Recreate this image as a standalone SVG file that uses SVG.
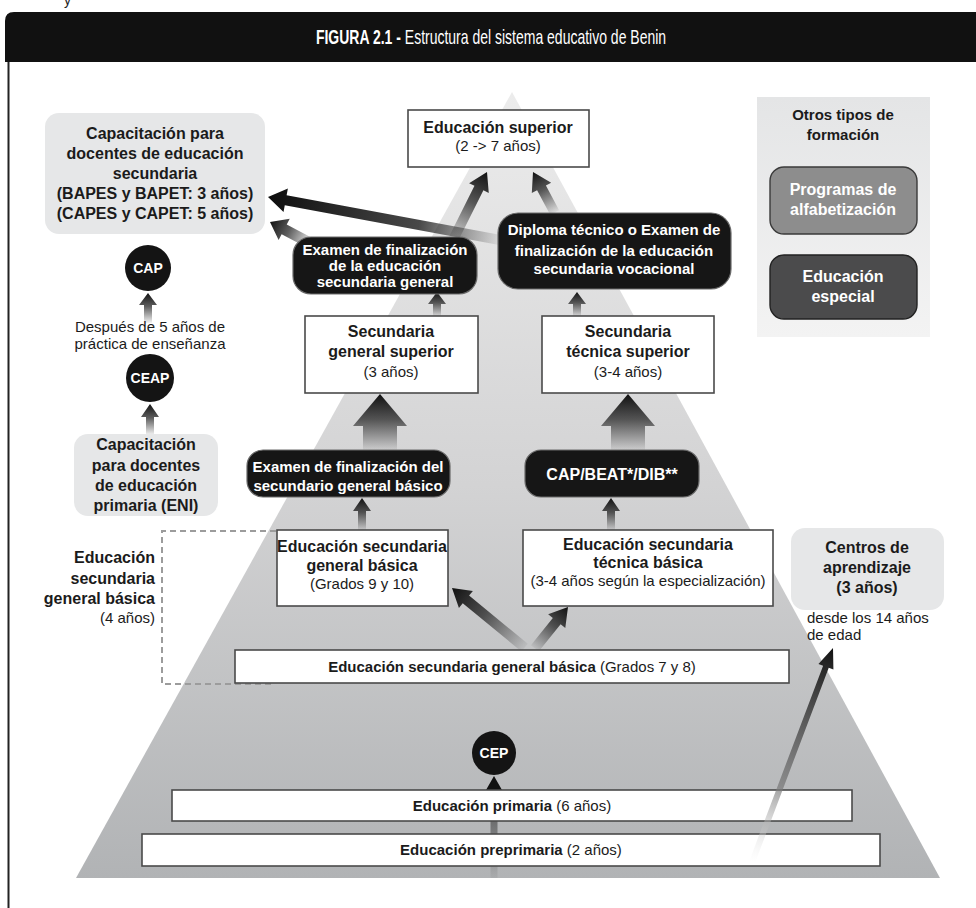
<svg xmlns="http://www.w3.org/2000/svg" width="976" height="908" viewBox="0 0 976 908">
  <style>
    text { font-family: "Liberation Sans Narrow", "Liberation Sans", Arial, sans-serif; }
    .b { font-weight: bold; }
    .c { text-anchor: middle; }
    .e { text-anchor: end; }
    .f16 { font-size: 16px; }
    .f15 { font-size: 15px; }
    .f14 { font-size: 14px; }
    .dk { fill: #1b1b1b; }
    .wt { fill: #ffffff; }
    .box { fill: #ffffff; stroke: #4a4a4a; stroke-width: 1.6; }
    .blk { fill: #161616; stroke: #6a6a6a; stroke-width: 1.2; }
    .soft { fill: #e6e7e8; }
    .dot { fill: #141414; }
  </style>
  <defs>
    <linearGradient id="pyr" x1="0" y1="92" x2="0" y2="878" gradientUnits="userSpaceOnUse">
      <stop offset="0" stop-color="#ececec"/>
      <stop offset="0.5" stop-color="#d3d3d4"/>
      <stop offset="1" stop-color="#b1b3b5"/>
    </linearGradient>
    <linearGradient id="panel" x1="0" y1="0" x2="0" y2="1">
      <stop offset="0" stop-color="#e4e5e6"/>
      <stop offset="1" stop-color="#f3f3f3"/>
    </linearGradient>
    <!-- arrow fills: tail at the bottom of the local box, tip at the top -->
    <linearGradient id="fade" x1="0" y1="1" x2="0" y2="0">
      <stop offset="0" stop-color="#1a1a1a" stop-opacity="0.05"/>
      <stop offset="0.55" stop-color="#1a1a1a" stop-opacity="0.7"/>
      <stop offset="1" stop-color="#111111" stop-opacity="1"/>
    </linearGradient>
    <linearGradient id="fadeLong" x1="0" y1="1" x2="0" y2="0">
      <stop offset="0" stop-color="#1a1a1a" stop-opacity="0.05"/>
      <stop offset="0.35" stop-color="#1a1a1a" stop-opacity="0.8"/>
      <stop offset="1" stop-color="#0d0d0d" stop-opacity="1"/>
    </linearGradient>
    <linearGradient id="fadeCep" x1="0" y1="1" x2="0" y2="0">
      <stop offset="0" stop-color="#1a1a1a" stop-opacity="0.05"/>
      <stop offset="0.6" stop-color="#1a1a1a" stop-opacity="0.5"/>
      <stop offset="0.78" stop-color="#111111" stop-opacity="1"/>
      <stop offset="1" stop-color="#111111" stop-opacity="1"/>
    </linearGradient>
    <linearGradient id="fadeThin" x1="0" y1="1" x2="0" y2="0">
      <stop offset="0" stop-color="#ffffff" stop-opacity="0.2"/>
      <stop offset="0.35" stop-color="#777777" stop-opacity="0.7"/>
      <stop offset="1" stop-color="#111111" stop-opacity="1"/>
    </linearGradient>
  </defs>

  <!-- page background -->
  <rect x="0" y="0" width="976" height="908" fill="#ffffff"/>
  <text x="64" y="5" class="f14" fill="#222">y</text>

  <!-- title bar and frame -->
  <g id="header">
    <path d="M5,62 V21 Q5,12 14,12 H976 V62 Z" fill="#111111"/>
    <line x1="8.5" y1="62" x2="8.5" y2="908" stroke="#222" stroke-width="2"/>
    <text transform="translate(491,44) scale(0.7,1)" x="0" y="0" class="c wt" font-size="20"><tspan class="b">FIGURA 2.1 -</tspan> Estructura del sistema educativo de Benin</text>
  </g>

  <!-- pyramid backdrop -->
  <polygon id="pyramid" points="512,92 940,878 76,878" fill="url(#pyr)"/>

  <!-- connectors -->
  <g id="connectors">
    <!-- CAP -->
    <path transform="translate(148,293)" d="M0,0 L9,12 L4,12 L4,30 L-4,30 L-4,12 L-9,12 Z" fill="url(#fade)"/>
    <!-- CEAP -->
    <path transform="translate(150,404)" d="M0,0 L9,13 L4,13 L4,31 L-4,31 L-4,13 L-9,13 Z" fill="url(#fade)"/>
    <!-- basic general -> exam -->
    <path transform="translate(362,498)" d="M0,0 L9,13 L4,13 L4,32 L-4,32 L-4,13 L-9,13 Z" fill="url(#fade)"/>
    <!-- basic technical -> CAP/BEAT/DIB -->
    <path transform="translate(611,498)" d="M0,0 L9,13 L4,13 L4,32 L-4,32 L-4,13 L-9,13 Z" fill="url(#fade)"/>
    <!-- big arrows into upper secondary -->
    <path transform="translate(380,394)" d="M0,0 L27,32 L17,32 L17,56 L-17,56 L-17,32 L-27,32 Z" fill="url(#fade)"/>
    <path transform="translate(628,394)" d="M0,0 L27,32 L17,32 L17,56 L-17,56 L-17,32 L-27,32 Z" fill="url(#fade)"/>
    <!-- upper secondary -> exams -->
    <path transform="translate(437,292)" d="M0,0 L9,12 L4,12 L4,24 L-4,24 L-4,12 L-9,12 Z" fill="url(#fade)"/>
    <path transform="translate(577,292)" d="M0,0 L9,12 L4,12 L4,24 L-4,24 L-4,12 L-9,12 Z" fill="url(#fade)"/>
    <!-- exams -> higher education -->
    <path transform="translate(487,172) rotate(26.6)" d="M0,0 L11,18 L5,18 L5,76 L-5,76 L-5,18 L-11,18 Z" fill="url(#fade)"/>
    <path transform="translate(533,172) rotate(-28.2)" d="M0,0 L11,18 L5,18 L5,46 L-5,46 L-5,18 L-11,18 Z" fill="url(#fade)"/>
    <!-- exams -> secondary teacher training -->
    <path transform="translate(268,197) rotate(-79.5)" d="M0,0 L12,18 L5,18 L5,236 L-5,236 L-5,18 L-12,18 Z" fill="url(#fadeLong)"/>
    <path transform="translate(270,222) rotate(-62.4)" d="M0,0 L12,16 L5.5,16 L5.5,47 L-5.5,47 L-5.5,16 L-12,16 Z" fill="url(#fade)"/>
    <!-- grades 7-8 -> grades 9-10 branches -->
    <path transform="translate(452,588) rotate(-50.6)" d="M0,0 L11,18 L5,18 L5,94 L-5,94 L-5,18 L-11,18 Z" fill="url(#fade)"/>
    <path transform="translate(568,607) rotate(38.8)" d="M0,0 L11,18 L5,18 L5,53 L-5,53 L-5,18 L-11,18 Z" fill="url(#fade)"/>
    <!-- primary -> CEP -->
    <path transform="translate(494,776)" d="M0,0 L8,14 L3.5,14 L3.5,102 L-3.5,102 L-3.5,14 L-8,14 Z" fill="url(#fadeCep)"/>
  </g>

  <!-- teacher training column -->
  <g id="sec-teacher-training">
    <rect x="45" y="113" width="220" height="121" rx="14" class="soft"/>
    <text class="b c f16 dk" x="155" y="139">Capacitación para</text>
    <text class="b c f16 dk" x="155" y="159">docentes de educación</text>
    <text class="b c f16 dk" x="155" y="179">secundaria</text>
    <text class="b c f16 dk" x="155" y="199">(BAPES y BAPET: 3 años)</text>
    <text class="b c f16 dk" x="155" y="219">(CAPES y CAPET: 5 años)</text>
  </g>
  <g id="cap-left">
    <circle cx="148" cy="268" r="23" class="dot"/>
    <text class="b c f14 wt" x="148" y="273">CAP</text>
  </g>
  <g id="practice-note">
    <text class="c f15 dk" x="150" y="332">Después de 5 años de</text>
    <text class="c f15 dk" x="150" y="349">práctica de enseñanza</text>
  </g>
  <g id="ceap">
    <circle cx="150" cy="378" r="24" class="dot"/>
    <text class="b c f14 wt" x="150" y="383">CEAP</text>
  </g>
  <g id="prim-teacher-training">
    <rect x="74" y="434" width="144" height="82" rx="14" class="soft"/>
    <text class="b c f16 dk" x="146" y="450">Capacitación</text>
    <text class="b c f16 dk" x="146" y="471">para docentes</text>
    <text class="b c f16 dk" x="146" y="491">de educación</text>
    <text class="b c f16 dk" x="146" y="511">primaria (ENI)</text>
  </g>
  <g id="lower-secondary-span">
    <path d="M276,531 H162 V684 H272" fill="none" stroke="#9c9c9c" stroke-width="2" stroke-dasharray="6 4"/>
    <text class="b e f16 dk" x="155" y="563">Educación</text>
    <text class="b e f16 dk" x="155" y="584">secundaria</text>
    <text class="b e f16 dk" x="155" y="604">general  básica</text>
    <text class="e f15 dk" x="155" y="623">(4 años)</text>
  </g>

  <!-- pyramid levels -->
  <g id="higher-ed">
    <rect x="408" y="110" width="181" height="57" class="box"/>
    <text class="b c f16 dk" x="498" y="133">Educación  superior</text>
    <text class="c f15 dk" x="498" y="151">(2 -&gt; 7 años)</text>
  </g>
  <g id="exam-upper-general">
    <rect x="293" y="237" width="184" height="57" rx="18" class="blk"/>
    <text class="b c f15 wt" x="385" y="255">Examen de finalización</text>
    <text class="b c f15 wt" x="385" y="271">de la educación</text>
    <text class="b c f15 wt" x="385" y="287">secundaria general</text>
  </g>
  <g id="exam-upper-technical">
    <rect x="498" y="213" width="233" height="76" rx="20" class="blk"/>
    <text class="b c f15 wt" x="614" y="235">Diploma técnico o Examen de</text>
    <text class="b c f15 wt" x="614" y="256">finalización de la educación</text>
    <text class="b c f15 wt" x="614" y="274">secundaria  vocacional</text>
  </g>
  <g id="upper-general">
    <rect x="305" y="316" width="173" height="77" class="box"/>
    <text class="b c f16 dk" x="391" y="337">Secundaria</text>
    <text class="b c f16 dk" x="391" y="357">general  superior</text>
    <text class="c f15 dk" x="391" y="377">(3 años)</text>
  </g>
  <g id="upper-technical">
    <rect x="542" y="316" width="172" height="77" class="box"/>
    <text class="b c f16 dk" x="628" y="337">Secundaria</text>
    <text class="b c f16 dk" x="628" y="357">técnica  superior</text>
    <text class="c f15 dk" x="628" y="377">(3-4 años)</text>
  </g>
  <g id="exam-basic-general">
    <rect x="247" y="450" width="203" height="47" rx="16" class="blk"/>
    <text class="b c f15 wt" x="348" y="472">Examen de finalización del</text>
    <text class="b c f15 wt" x="348" y="491">secundario general básico</text>
  </g>
  <g id="exam-basic-technical">
    <rect x="525" y="450" width="174" height="47" rx="16" class="blk"/>
    <text class="b c f16 wt" x="612" y="480">CAP/BEAT*/DIB**</text>
  </g>
  <g id="basic-general">
    <rect x="277" y="530" width="171" height="76" class="box"/>
    <text class="b c f16 dk" x="362" y="552">Educación  secundaria</text>
    <text class="b c f16 dk" x="362" y="571">general  básica</text>
    <text class="c f15 dk" x="362" y="589">(Grados 9 y 10)</text>
  </g>
  <g id="basic-technical">
    <rect x="523" y="530" width="250" height="76" class="box"/>
    <text class="b c f16 dk" x="648" y="550">Educación  secundaria</text>
    <text class="b c f16 dk" x="648" y="568">técnica  básica</text>
    <text class="c f15 dk" x="648" y="586">(3-4 años según la especialización)</text>
  </g>
  <g id="grades-7-8">
    <rect x="235" y="650" width="554" height="33" class="box"/>
    <text class="c f15 dk" x="512" y="672"><tspan class="b">Educación secundaria general básica</tspan> (Grados 7 y 8)</text>
  </g>
  <g id="cep">
    <circle cx="494" cy="753" r="22" class="dot"/>
    <text class="b c f14 wt" x="494" y="758">CEP</text>
  </g>
  <g id="primary">
    <rect x="172" y="790" width="680" height="31" class="box"/>
    <text class="c f15 dk" x="512" y="811"><tspan class="b">Educación primaria</tspan> (6 años)</text>
  </g>
  <g id="preprimary">
    <rect x="142" y="834" width="738" height="32" class="box"/>
    <text class="c f15 dk" x="511" y="855"><tspan class="b">Educación preprimaria</tspan> (2 años)</text>
  </g>

  <!-- learning centres branch, drawn over the base levels -->
  <g id="connector-learning-centres">
    <path transform="translate(833,648) rotate(20.7)" d="M0,0 L8,20 L3,20 L3,229 L-3,229 L-3,20 L-8,20 Z" fill="url(#fadeThin)"/>
  </g>
  <g id="learning-centres">
    <rect x="791" y="528" width="153" height="82" rx="14" class="soft"/>
    <text class="b c f16 dk" x="867" y="553">Centros de</text>
    <text class="b c f16 dk" x="867" y="573">aprendizaje</text>
    <text class="b c f16 dk" x="867" y="593">(3 años)</text>
    <text class="f15 dk" x="807" y="623">desde los 14 años</text>
    <text class="f15 dk" x="807" y="640">de edad</text>
  </g>

  <!-- other training types -->
  <g id="other-training">
    <rect x="757" y="97" width="173" height="240" fill="url(#panel)"/>
    <text class="b c f15 dk" x="843" y="120">Otros tipos de</text>
    <text class="b c f15 dk" x="843" y="140">formación</text>
  </g>
  <g id="literacy">
    <rect x="770" y="167" width="147" height="67" rx="14" fill="#8d8d8d" stroke="#3a3a3a" stroke-width="1.4"/>
    <text class="b c f16 wt" x="843" y="195">Programas de</text>
    <text class="b c f16 wt" x="843" y="215">alfabetización</text>
  </g>
  <g id="special-ed">
    <rect x="770" y="255" width="147" height="64" rx="14" fill="#4b4b4c" stroke="#222" stroke-width="1.4"/>
    <text class="b c f16 wt" x="843" y="282">Educación</text>
    <text class="b c f16 wt" x="843" y="302">especial</text>
  </g>
</svg>
